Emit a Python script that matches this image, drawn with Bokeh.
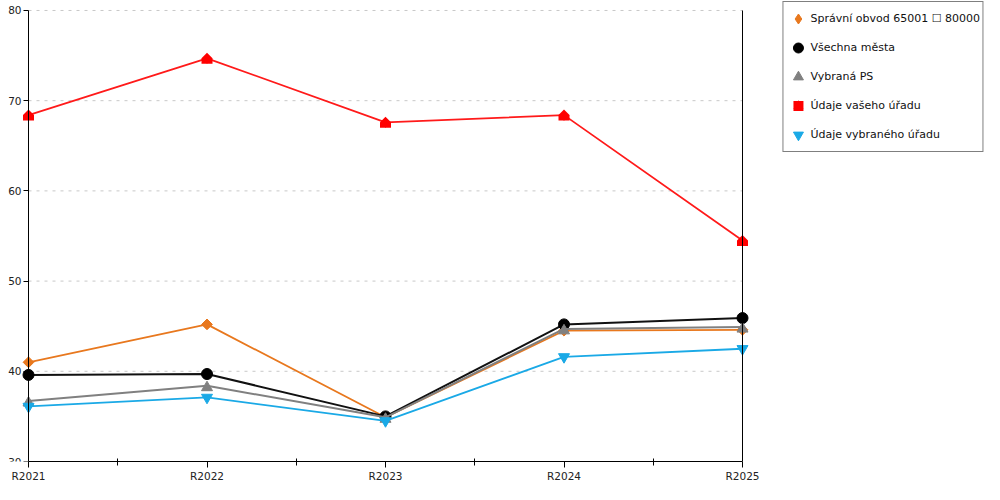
import math
from bokeh.plotting import figure
from bokeh.models import (Range1d, FixedTicker, LinearAxis, Legend, LegendItem,
                          ColumnDataSource)
from bokeh.transform import dodge
from bokeh.embed import file_html
from bokeh.resources import INLINE

# ---- data ----
categories = ["R2021", "R2022", "R2023", "R2024", "R2025"]
spravni_obvod = [41.0, 45.2, 34.9, 44.5, 44.6]
vsechna_mesta = [39.6, 39.7, 35.0, 45.2, 45.9]
vybrana_ps = [36.7, 38.4, 34.9, 44.7, 44.9]
udaje_vaseho = [68.4, 74.7, 67.6, 68.4, 54.5]
udaje_vybraneho = [36.1, 37.1, 34.5, 41.6, 42.5]
y_ticks = [30, 40, 50, 60, 70, 80]
grid_values = [40, 50, 60, 70, 80]
labels = ["Správní obvod 65001 \u2610 80000", "Všechna města", "Vybraná PS",
          "Údaje vašeho úřadu", "Údaje vybraného úřadu"]

idx = list(range(len(categories)))
last = idx[-1]

# layout (screen pixels)
W, H = 984, 484
FRAME_LEFT = 3
X0_PX, X1_PX = 28, 742          # where first / last category sit
TOP_PAD_PX = 10                  # space above the top gridline
BOTTOM_BORDER = 22
px_per_x = (X1_PX - X0_PX) / last
frame_h = H - BOTTOM_BORDER
y_px = (frame_h - TOP_PAD_PX) / (y_ticks[-1] - y_ticks[0])

FONT = "DejaVu Sans"

p = figure(width=W, height=H,
           x_range=Range1d(idx[0] - (X0_PX - FRAME_LEFT) / px_per_x,
                           last + (W - X1_PX) / px_per_x),
           y_range=Range1d(y_ticks[0], y_ticks[-1] + TOP_PAD_PX / y_px),
           x_axis_type=None, y_axis_type=None,
           output_backend="svg", toolbar_location=None,
           min_border_left=FRAME_LEFT, min_border_right=0,
           min_border_top=0, min_border_bottom=BOTTOM_BORDER,
           outline_line_color=None,
           background_fill_color="white", border_fill_color="white")

# grid lines (dotted, horizontal)
p.segment(x0=[idx[0]] * len(grid_values), x1=[last] * len(grid_values),
          y0=grid_values, y1=grid_values, line_color="#c8c8c8",
          line_width=1, line_dash="3 5", level="underlay")

# x axis
xaxis = LinearAxis(ticker=FixedTicker(ticks=idx, minor_ticks=[i + 0.5 for i in idx[:-1]]),
                   major_label_overrides={i: c for i, c in zip(idx, categories)},
                   bounds=(idx[0], last))
xaxis.axis_line_color = "black"
xaxis.major_tick_line_color = "black"
xaxis.minor_tick_line_color = "black"
xaxis.major_tick_in = 0
xaxis.major_tick_out = 6
xaxis.minor_tick_in = 3
xaxis.minor_tick_out = 4
xaxis.major_label_standoff = 2
xaxis.major_label_text_font = FONT
xaxis.major_label_text_font_size = "10.5px"
xaxis.major_label_text_color = "#222222"
p.add_layout(xaxis, "below")

# y axis (left), placed at first category
yaxis = LinearAxis(ticker=FixedTicker(ticks=y_ticks, minor_ticks=[]),
                   fixed_location=idx[0], bounds=(y_ticks[0], y_ticks[-1]))
yaxis.axis_line_color = "black"
yaxis.major_tick_line_color = "black"
yaxis.minor_tick_line_color = None
yaxis.major_tick_in = 0
yaxis.major_tick_out = 5
yaxis.major_label_standoff = 2
yaxis.major_label_text_font = FONT
yaxis.major_label_text_font_size = "10.5px"
yaxis.major_label_text_color = "#222222"
p.add_layout(yaxis, "left")

# vertical line at last category
raxis = LinearAxis(ticker=FixedTicker(ticks=[], minor_ticks=[]), fixed_location=last,
                   bounds=(y_ticks[0], y_ticks[-1]))
raxis.axis_line_color = "black"
raxis.major_tick_line_color = None
raxis.minor_tick_line_color = None
p.add_layout(raxis, "left")

LW = 1.8
orange, black, gray, red, blue = "#E8781E", "#000000", "#808080", "#FF0000", "#1AA9E6"

# series 1
p.line(idx, spravni_obvod, line_color=orange, line_width=LW)
p.scatter(idx, spravni_obvod, marker="square", angle=math.pi / 4, size=7.6,
          fill_color=orange, line_color=orange)
# series 2
p.line(idx, vsechna_mesta, line_color="#111111", line_width=2)
r_black = p.scatter(idx, vsechna_mesta, marker="circle", size=11,
                    fill_color=black, line_color=black)
# series 3
src_gray = ColumnDataSource(dict(x=idx, y=vybrana_ps))
p.line("x", "y", source=src_gray, line_color=gray, line_width=2)
r_gray = p.scatter("x", dodge("y", -1.8 / y_px, range=p.y_range), source=src_gray,
                   marker="triangle", size=11, fill_color=gray, line_color=gray)
# series 4 (house marker = roof + body)
src_red = ColumnDataSource(dict(x=idx, y=udaje_vaseho))
p.line("x", "y", source=src_red, line_color="#FF1A1A", line_width=LW)
p.scatter("x", "y", source=src_red, marker="square", angle=math.pi / 4, size=7.8,
          fill_color=red, line_color=None)
p.rect("x", dodge("y", -2.75 / y_px, range=p.y_range), width=11, height=5.5,
       width_units="screen", height_units="screen", source=src_red,
       fill_color=red, line_color=None)
# series 5
p.line(idx, udaje_vybraneho, line_color=blue, line_width=LW)
r_blue = p.scatter(idx, udaje_vybraneho, marker="inverted_triangle", size=11,
                   fill_color=blue, line_color=blue)

# legend-only proxies
nan_src = ColumnDataSource(dict(x=[float("nan")], y=[float("nan")]))
lg_orange = p.scatter("x", "y", source=nan_src, marker="diamond",
                      fill_color=orange, line_color=orange)
lg_red_sq = p.scatter("x", "y", source=nan_src, marker="square",
                      fill_color=red, line_color=None)
lg_red_tr = p.scatter("x", "y", source=nan_src, marker="triangle",
                      fill_color=red, line_color=None)

legend = Legend(items=[
    LegendItem(label=labels[0], renderers=[lg_orange]),
    LegendItem(label=labels[1], renderers=[r_black]),
    LegendItem(label=labels[2], renderers=[r_gray]),
    LegendItem(label=labels[3], renderers=[lg_red_sq, lg_red_tr]),
    LegendItem(label=labels[4], renderers=[r_blue]),
])
legend.location = "top_right"
legend.margin = 1
legend.padding = 2
legend.spacing = 0
legend.glyph_width = 25
legend.glyph_height = 29
legend.label_standoff = 0
legend.label_width = 169
legend.label_height = 20
legend.label_text_font = FONT
legend.label_text_font_size = "11px"
legend.label_text_color = "#111111"
legend.border_line_color = "black"
legend.border_line_width = 1
legend.background_fill_color = "white"
legend.background_fill_alpha = 1
p.add_layout(legend, "center")

open("out.html", "w").write(file_html(p, INLINE))
